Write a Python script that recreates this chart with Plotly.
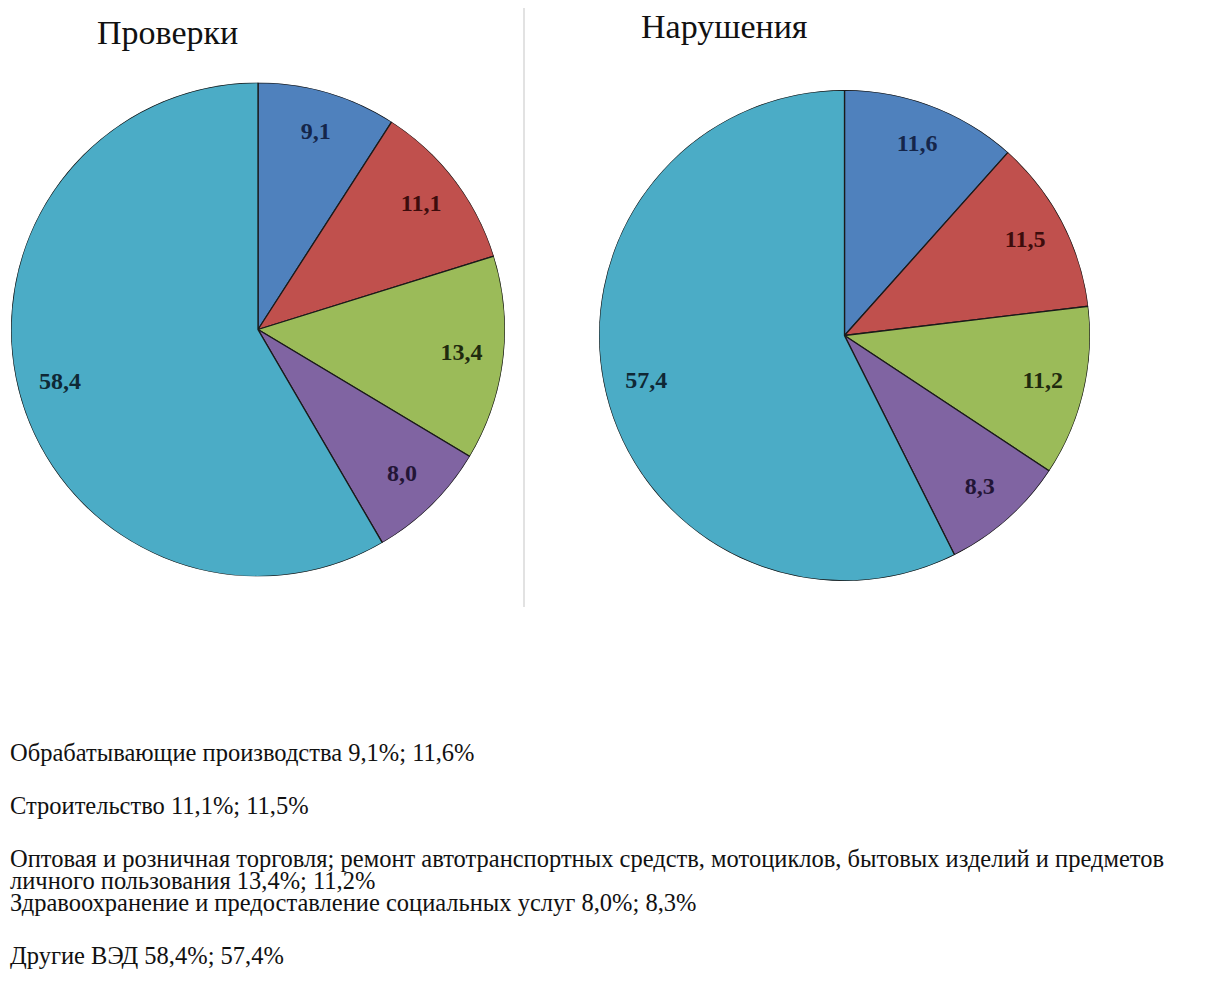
import plotly.graph_objects as go

# Categories (legend texts) and shares, %
categories = [
    "Обрабатывающие производства",
    "Строительство",
    "Оптовая и розничная торговля; ремонт автотранспортных средств, мотоциклов, бытовых изделий и предметов\nличного пользования",
    "Здравоохранение и предоставление социальных услуг",
    "Другие ВЭД",
]
checks = [9.1, 11.1, 13.4, 8.0, 58.4]       # Проверки
violations = [11.6, 11.5, 11.2, 8.3, 57.4]  # Нарушения

colors = ["#4F81BD", "#C0504D", "#9BBB59", "#8064A2", "#4BACC6"]
label_colors = ["#15264a", "#3d0c0c", "#1f2a0e", "#231536", "#0f2835"]

W, H = 1217, 984
OFF = 8  # page body margin
serif = "Liberation Serif, Times New Roman, serif"


def fmt(v):
    return f"{v:.1f}".replace(".", ",")


def fx(px):
    return (px - OFF) / W


def fy(px):
    return 1 - (px - OFF) / H


def pie_as_polar(fig, values, polar_id, left, right, top, bottom):
    # wedges as polar bars: theta in degrees, clockwise from 12 o'clock
    total = sum(values)
    widths = [v / total * 360 for v in values]
    mids, acc = [], 0.0
    for w in widths:
        mids.append(acc + w / 2)
        acc += w
    fig.add_trace(go.Barpolar(
        r=[1] * len(values), theta=mids, width=widths,
        marker=dict(color=colors, line=dict(color="#1a1a1a", width=1.3)),
        subplot=polar_id, showlegend=False, hoverinfo="text",
        hovertext=[f"{c}: {fmt(v)}%" for c, v in zip(categories, values)],
    ))
    fig.add_trace(go.Scatterpolar(
        r=[0.83] * len(values), theta=mids, mode="text",
        text=[fmt(v) for v in values],
        textfont=dict(family=serif, size=24, color=label_colors, weight="bold"),
        subplot=polar_id, showlegend=False, hoverinfo="skip",
    ))
    fig.update_layout({polar_id: dict(
        domain=dict(x=[fx(left), fx(right)], y=[fy(bottom), fy(top)]),
        bgcolor="rgba(0,0,0,0)", bargap=0, hole=0,
        radialaxis=dict(range=[0, 1], visible=False),
        angularaxis=dict(direction="clockwise", rotation=90, visible=False,
                         showgrid=False, showline=False),
    )})


fig = go.Figure()
pie_as_polar(fig, checks, "polar", 11, 505, 82.5, 576.5)
pie_as_polar(fig, violations, "polar2", 599, 1090, 90, 581)

# Pie titles
fig.add_annotation(text="Проверки", x=fx(167), y=fy(32), xref="paper", yref="paper",
                   xanchor="center", yanchor="middle", showarrow=False,
                   font=dict(family=serif, size=34, color="#111"))
fig.add_annotation(text="Нарушения", x=fx(724), y=fy(27), xref="paper", yref="paper",
                   xanchor="center", yanchor="middle", showarrow=False,
                   font=dict(family=serif, size=34, color="#111"))

# Legend lines (text only, no markers); the long entry wraps onto a second line
legend_y = [752, 805, 858, 902, 955]
wrap_step = 22
for cat, a, b, y in zip(categories, checks, violations, legend_y):
    lines = f"{cat} {fmt(a)}%; {fmt(b)}%".split("\n")
    for i, line in enumerate(lines):
        fig.add_annotation(
            text=line, x=fx(8), y=fy(y + i * wrap_step), xref="paper", yref="paper",
            xanchor="left", yanchor="middle", align="left", showarrow=False,
            font=dict(family=serif, size=24.5, color="#111"),
        )

# Vertical separator between the two charts
fig.add_shape(type="line", xref="paper", yref="paper",
              x0=fx(524), x1=fx(524), y0=fy(607), y1=fy(8),
              line=dict(color="#d9d9d9", width=1.5))

fig.update_layout(
    width=W, height=H,
    margin=dict(l=0, r=0, t=0, b=0),
    paper_bgcolor="white", plot_bgcolor="white",
)

fig.write_html("out.html")
